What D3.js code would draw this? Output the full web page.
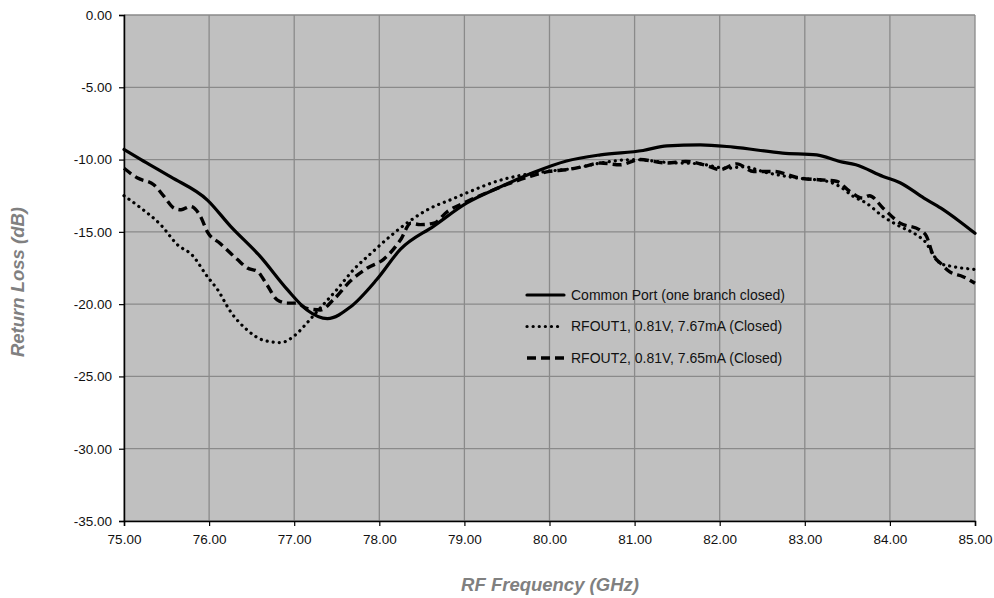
<!DOCTYPE html>
<html>
<head>
<meta charset="utf-8">
<script src="https://cdn.jsdelivr.net/npm/d3@7"></script>
<style>
  html, body { margin: 0; padding: 0; background: #ffffff; }
  svg { display: block; font-family: "Liberation Sans", Arial, sans-serif; }
</style>
</head>
<body>
<svg id="chart" width="994" height="598"></svg>
<script>
// Return loss vs. frequency, three measurements
const xTicks = [75, 76, 77, 78, 79, 80, 81, 82, 83, 84, 85];
const yTicks = [0, -5, -10, -15, -20, -25, -30, -35];

const seriesNames = [
  "Common Port (one branch closed)",
  "RFOUT1, 0.81V, 7.67mA (Closed)",
  "RFOUT2, 0.81V, 7.65mA (Closed)"
];

const commonFreq = [75, 75.2, 75.55, 75.98, 76.25, 76.6, 76.92, 77.15, 77.39, 77.66, 77.97, 78.25, 78.64, 79.03, 79.42, 79.81, 80.2, 80.6, 81.1, 81.38, 81.77, 82.16, 82.74, 83.14, 83.41, 83.6, 83.92, 84.12, 84.4, 84.6, 84.82, 85];
const commonLoss = [-9.3, -10.0, -11.2, -12.8, -14.6, -16.7, -19.0, -20.4, -21.0, -20.2, -18.3, -16.2, -14.6, -13.0, -11.9, -10.9, -10.1, -9.67, -9.37, -9.05, -8.98, -9.14, -9.55, -9.67, -10.13, -10.36, -11.17, -11.6, -12.66, -13.36, -14.28, -15.1];

const rfout1Freq = [75, 75.2, 75.43, 75.63, 75.8, 75.98, 76.1, 76.25, 76.45, 76.64, 76.84, 77.0, 77.15, 77.27, 77.5, 77.7, 77.9, 78.13, 78.37, 78.6, 78.83, 79.07, 79.38, 79.7, 80.0, 80.3, 80.6, 80.99, 81.38, 81.77, 82.08, 82.28, 82.55, 82.94, 83.26, 83.41, 83.57, 83.72, 83.92, 84.12, 84.31, 84.43, 84.5, 84.6, 84.74, 85];
const rfout1Loss = [-12.5, -13.36, -14.5, -15.9, -16.6, -18.1, -19.0, -20.5, -21.8, -22.5, -22.66, -22.2, -21.3, -20.5, -19.0, -17.6, -16.5, -15.3, -14.2, -13.36, -12.8, -12.2, -11.5, -11.05, -10.8, -10.6, -10.24, -10.0, -10.2, -10.3, -10.6, -10.5, -10.9, -11.3, -11.5, -11.86, -12.55, -13.0, -13.94, -14.63, -15.2, -15.8, -16.5, -17.2, -17.4, -17.6];

const rfout2Freq = [75, 75.16, 75.35, 75.47, 75.59, 75.67, 75.78, 75.9, 75.98, 76.13, 76.33, 76.45, 76.57, 76.68, 76.8, 76.92, 77.03, 77.15, 77.31, 77.46, 77.66, 77.86, 78.05, 78.25, 78.37, 78.48, 78.64, 78.8, 79.03, 79.3, 79.54, 79.77, 80.0, 80.2, 80.4, 80.6, 80.83, 81.06, 81.38, 81.6, 81.88, 82.0, 82.2, 82.4, 82.63, 82.94, 83.18, 83.37, 83.53, 83.68, 83.76, 83.92, 84.12, 84.35, 84.43, 84.5, 84.6, 84.7, 84.86, 85];
const rfout2Loss = [-10.6, -11.28, -11.74, -12.55, -13.36, -13.47, -13.24, -13.94, -15.0, -15.8, -16.9, -17.5, -17.75, -18.66, -19.7, -19.93, -19.93, -20.3, -20.4, -19.7, -18.4, -17.5, -16.9, -15.55, -14.4, -14.5, -14.4, -13.6, -12.9, -12.2, -11.63, -11.17, -10.82, -10.7, -10.48, -10.24, -10.36, -10.0, -10.24, -10.13, -10.48, -10.7, -10.3, -10.82, -10.82, -11.28, -11.4, -11.5, -12.2, -12.66, -12.5, -13.36, -14.4, -14.86, -15.3, -16.5, -17.2, -17.75, -18.1, -18.55];

const lineStyles = [
  { width: 3.2, dash: null, cap: "round" },
  { width: 3.2, dash: "0.1 6", cap: "round" },
  { width: 3.4, dash: "9 5", cap: "butt" }
];

const svg = d3.select("#chart");
const margin = { left: 124, top: 15, right: 19, bottom: 77 };
const W = 994, H = 598;
const iw = W - margin.left - margin.right;
const ih = H - margin.top - margin.bottom;

const x = d3.scaleLinear().domain([75, 85]).range([0, iw]);
const y = d3.scaleLinear().domain([-35, 0]).range([ih, 0]);

const g = svg.append("g").attr("transform", `translate(${margin.left},${margin.top})`);

// plot background
g.append("rect").attr("width", iw).attr("height", ih).attr("fill", "#c0c0c0");

// gridlines
g.append("g").selectAll("line.v").data(xTicks).join("line")
  .attr("x1", d => x(d)).attr("x2", d => x(d))
  .attr("y1", 0).attr("y2", ih)
  .attr("stroke", "#8a8a8a").attr("stroke-width", 1.3);
g.append("g").selectAll("line.h").data(yTicks).join("line")
  .attr("x1", 0).attr("x2", iw)
  .attr("y1", d => y(d)).attr("y2", d => y(d))
  .attr("stroke", "#8a8a8a").attr("stroke-width", 1.3);

// axes (plain hyphen-minus for negative labels)
const fmt = d3.formatLocale({ decimal: ".", thousands: ",", grouping: [3], currency: ["", ""], minus: "-" }).format(".2f");
const xAxis = g.append("g").attr("transform", `translate(0,${ih})`)
  .call(d3.axisBottom(x).tickValues(xTicks).tickFormat(fmt).tickSize(5).tickPadding(8));
const yAxis = g.append("g")
  .call(d3.axisLeft(y).tickValues(yTicks).tickFormat(fmt).tickSize(5).tickPadding(7));
[xAxis, yAxis].forEach(a => {
  a.select(".domain").attr("stroke", "#000").attr("stroke-width", 1.5);
  a.selectAll(".tick line").attr("stroke", "#000").attr("stroke-width", 1.2);
  a.selectAll(".tick text").attr("fill", "#111").attr("font-size", 13.5)
    .attr("font-family", "'Liberation Sans', Arial, sans-serif");
});

// series
const seriesData = [
  commonFreq.map((f, i) => [f, commonLoss[i]]),
  rfout1Freq.map((f, i) => [f, rfout1Loss[i]]),
  rfout2Freq.map((f, i) => [f, rfout2Loss[i]])
];
const line = d3.line().x(d => x(d[0])).y(d => y(d[1])).curve(d3.curveMonotoneX);

const plot = g.append("g");
seriesData.forEach((pts, i) => {
  const s = lineStyles[i];
  plot.append("path").datum(pts)
    .attr("d", line)
    .attr("fill", "none")
    .attr("stroke", "#000")
    .attr("stroke-width", s.width)
    .attr("stroke-linecap", s.cap)
    .attr("stroke-linejoin", "round")
    .attr("stroke-dasharray", s.dash);
});

// legend
const legend = g.append("g").attr("transform", `translate(${527 - margin.left},${295 - margin.top})`);
seriesNames.forEach((name, i) => {
  const s = lineStyles[i];
  const row = legend.append("g").attr("transform", `translate(0,${i * 31.5})`);
  row.append("line")
    .attr("x1", 0).attr("x2", i === 1 ? 35 : 37).attr("y1", 0).attr("y2", 0)
    .attr("stroke", "#000").attr("stroke-width", s.width)
    .attr("stroke-linecap", s.cap)
    .attr("stroke-dasharray", s.dash);
  row.append("text")
    .attr("x", 44).attr("y", 0).attr("dy", "0.35em")
    .attr("font-size", 14).attr("fill", "#111")
    .text(name);
});

// axis titles
svg.append("text")
  .attr("x", 550).attr("y", 591)
  .attr("text-anchor", "middle")
  .attr("font-size", 18.5).attr("font-weight", "bold").attr("font-style", "italic")
  .attr("fill", "#808080")
  .text("RF Frequency (GHz)");
svg.append("text")
  .attr("transform", `translate(24,282) rotate(-90)`)
  .attr("text-anchor", "middle")
  .attr("font-size", 18.5).attr("font-weight", "bold").attr("font-style", "italic")
  .attr("fill", "#808080")
  .text("Return Loss (dB)");
</script>
</body>
</html>
